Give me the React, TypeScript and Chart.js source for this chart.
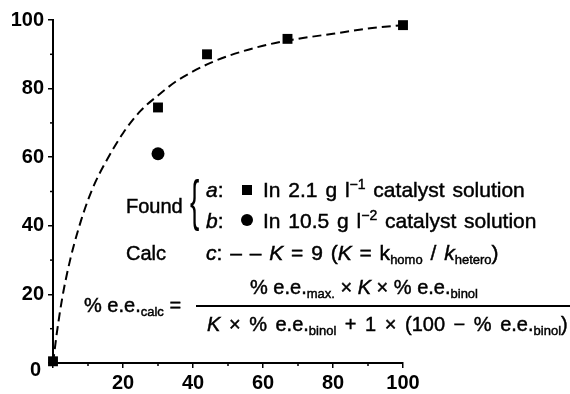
import React, { useEffect, useRef } from 'react';
import { Chart, registerables } from 'chart.js';

Chart.register(...registerables);

// Calculated curve c (K = 9)
const curveX = [0, 1, 2, 3, 4, 5, 6, 8, 10, 12, 15, 20, 25, 30, 35, 40, 45, 50, 60, 70, 80, 90, 100];
const curveY = [0, 8, 15, 21, 26, 30.5, 34.5, 41.5, 47.5, 52.5, 58.5, 67, 73.5, 78, 82, 85, 87.5, 89.5, 92.5, 94.5, 96, 97.5, 98.5];

// Found a: 2.1 g/l catalyst solution (squares)
const foundAX = [0, 30, 44, 67, 100];
const foundAY = [0.5, 74.5, 90, 94.5, 98.5];

// Found b: 10.5 g/l catalyst solution (circle)
const foundBX = [30];
const foundBY = [61];

const xTickValues = [0, 20, 40, 60, 80, 100];
const yTickValues = [0, 20, 40, 60, 80, 100];
const minorTickValues = [10, 30, 50, 70, 90];

const FONT = '"Liberation Sans", Arial, Helvetica, sans-serif';

const axisExtras = {
  id: 'axisExtras',
  afterDraw(chart: any) {
    const { ctx, scales } = chart;
    const x = scales.x;
    const y = scales.y;
    ctx.save();
    ctx.strokeStyle = '#000';
    ctx.lineWidth = 1.5;
    minorTickValues.forEach((v) => {
      const py = y.getPixelForValue(v);
      ctx.beginPath();
      ctx.moveTo(y.right - 3, py);
      ctx.lineTo(y.right, py);
      ctx.stroke();
      const px = x.getPixelForValue(v);
      ctx.beginPath();
      ctx.moveTo(px, x.top);
      ctx.lineTo(px, x.top + 3);
      ctx.stroke();
    });
    // the "0" label of the y axis sits a little below its tick in the original
    ctx.fillStyle = '#000';
    ctx.font = `bold 20px ${FONT}`;
    ctx.textAlign = 'right';
    ctx.textBaseline = 'middle';
    ctx.fillText(String(yTickValues[0]), y.right - 12, y.getPixelForValue(yTickValues[0]) + 7);
    ctx.restore();
  },
};

const T = ({ x, y, size = 20, children, style }: any) => (
  <div
    style={{
      position: 'absolute',
      left: x,
      top: y - size * 0.85,
      fontSize: size,
      lineHeight: 1,
      whiteSpace: 'nowrap',
      fontFamily: FONT,
      color: '#000',
      WebkitTextStroke: '0.45px #000',
      ...style,
    }}
  >
    {children}
  </div>
);
const Sub = ({ children, size = 13 }: any) => (
  <span style={{ fontSize: size, position: 'relative', top: 4 }}>{children}</span>
);
const Sup = ({ children }: any) => (
  <span style={{ fontSize: 14, position: 'relative', top: -8 }}>{children}</span>
);
const I = ({ children }: any) => <span style={{ fontStyle: 'italic' }}>{children}</span>;

export default function App() {
  const ref = useRef<HTMLCanvasElement>(null);

  useEffect(() => {
    if (!ref.current) return;
    const chart = new Chart(ref.current, {
      type: 'scatter',
      data: {
        datasets: [
          {
            type: 'line',
            label: 'c',
            data: curveX.map((x, i) => ({ x, y: curveY[i] })),
            borderColor: '#000',
            borderWidth: 2,
            borderDash: [9, 5],
            pointRadius: 0,
            fill: false,
            cubicInterpolationMode: 'monotone',
            clip: false,
          } as any,
          {
            label: 'a',
            data: foundAX.map((x, i) => ({ x, y: foundAY[i] })),
            pointStyle: 'rect',
            pointRadius: 7,
            backgroundColor: '#000',
            borderColor: '#000',
            borderWidth: 0,
            clip: false,
          } as any,
          {
            label: 'b',
            data: foundBX.map((x, i) => ({ x, y: foundBY[i] })),
            pointStyle: 'circle',
            pointRadius: 6.5,
            backgroundColor: '#000',
            borderColor: '#000',
            borderWidth: 0,
            clip: false,
          } as any,
        ],
      },
      options: {
        animation: false,
        responsive: false,
        devicePixelRatio: 1,
        layout: { padding: { left: 0, right: 167, top: 20, bottom: 0 } },
        plugins: { legend: { display: false }, tooltip: { enabled: false } },
        scales: {
          x: {
            type: 'linear',
            min: 0,
            max: 100,
            afterFit: (s: any) => {
              s.height = 31;
            },
            afterBuildTicks: (s: any) => {
              s.ticks = xTickValues.map((v) => ({ value: v }));
            },
            ticks: {
              color: '#000',
              font: { family: FONT, size: 20, weight: 'bold' },
              padding: 3,
              maxRotation: 0,
              autoSkip: false,
              callback: (v: any) => (v === 0 ? '' : String(v)),
            },
            grid: { drawOnChartArea: false, color: '#000', lineWidth: 1.5, tickLength: 5 },
            border: { color: '#000', width: 2 },
          },
          y: {
            type: 'linear',
            min: 0,
            max: 100,
            afterFit: (s: any) => {
              s.width = 53;
            },
            afterBuildTicks: (s: any) => {
              s.ticks = yTickValues.map((v) => ({ value: v }));
            },
            ticks: {
              color: '#000',
              font: { family: FONT, size: 20, weight: 'bold' },
              padding: 4,
              autoSkip: false,
              callback: (v: any) => (v === 0 ? '' : String(v)),
            },
            grid: { drawOnChartArea: false, color: '#000', lineWidth: 1.5, tickLength: 5 },
            border: { color: '#000', width: 2 },
          },
        },
      },
      plugins: [axisExtras],
    });
    return () => chart.destroy();
  }, []);

  return (
    <div style={{ position: 'absolute', left: 0, top: 0, width: 570, height: 394, background: '#fff' }}>
      <canvas ref={ref} width={570} height={394} style={{ position: 'absolute', left: 0, top: 0 }} />

      <T x={126} y={213}>Found</T>
      <div
        style={{
          position: 'absolute',
          left: 190,
          top: 172,
          fontSize: 56,
          lineHeight: 1,
          fontFamily: FONT,
          transform: 'scaleX(0.5)',
          transformOrigin: 'left top',
        }}
      >
        {'{'}
      </div>

      <T x={206} y={197} size={21}><I>a</I>:</T>
      <div style={{ position: 'absolute', left: 242, top: 185, width: 10, height: 10, background: '#000' }} />
      <T x={263} y={197} size={21} style={{ wordSpacing: 2 }}>
        In 2.1 g l<Sup>−1</Sup> catalyst solution
      </T>

      <T x={206} y={228} size={21}><I>b</I>:</T>
      <div style={{ position: 'absolute', left: 241, top: 214, width: 12, height: 12, borderRadius: '50%', background: '#000' }} />
      <T x={263} y={228} size={21} style={{ wordSpacing: 2 }}>
        In 10.5 g l<Sup>−2</Sup> catalyst solution
      </T>

      <T x={126} y={260}>Calc</T>
      <T x={206} y={260} size={21} style={{ wordSpacing: 2 }}>
        <I>c</I>: – – <I>K</I> = 9 (<I>K</I> = k<Sub>homo</Sub> / <I>k</I><Sub>hetero</Sub>)
      </T>

      <T x={84} y={312}>
        % e.e.<Sub>calc</Sub> =
      </T>
      <div style={{ position: 'absolute', left: 196, top: 305, width: 374, height: 2, background: '#000' }} />
      <T x={250} y={294}>
        % e.e.<Sub>max.</Sub> × <I>K</I> × % e.e.<Sub>binol</Sub>
      </T>
      <T x={207} y={331} style={{ wordSpacing: 3 }}>
        <I>K</I> × % e.e.<Sub>binol</Sub> + 1 × (100 − % e.e.<Sub>binol</Sub>)
      </T>
    </div>
  );
}
